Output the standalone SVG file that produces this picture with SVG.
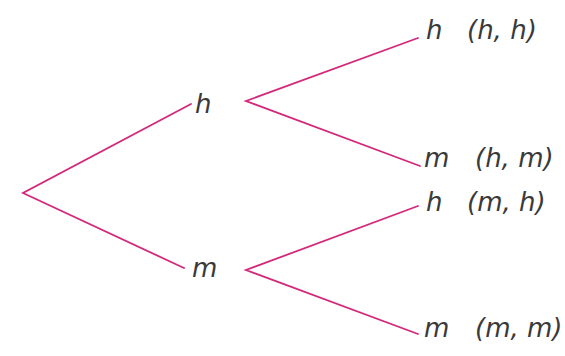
<svg xmlns="http://www.w3.org/2000/svg" width="565" height="356" viewBox="0 0 565 356">
<style>
.e{stroke:#d4287a;stroke-width:1.8;fill:none;stroke-linecap:round}
text{font-family:"DejaVu Sans","Open Sans",sans-serif;font-style:italic;font-size:26px;fill:#3a3a3a}
</style>
<rect width="565" height="356" fill="#fff"/>
<g id="connectors">
<path class="e" d="M191,104 L23,193 L184,268"/>
<path class="e" d="M418,38 L246,101 L420,166"/>
<path class="e" d="M418,206 L246,270 L418,334"/>
</g>
<g id="n-h"><text x="195" y="113">h</text></g>
<g id="n-m"><text x="192" y="277">m</text></g>
<g id="n-hh"><text x="426" y="39">h</text><text x="467" y="39">(h, h)</text></g>
<g id="n-hm"><text x="424" y="167">m</text><text x="475" y="167">(h, m)</text></g>
<g id="n-mh"><text x="426" y="211">h</text><text x="467" y="211">(m, h)</text></g>
<g id="n-mm"><text x="424" y="337">m</text><text x="475" y="337">(m, m)</text></g>
</svg>
